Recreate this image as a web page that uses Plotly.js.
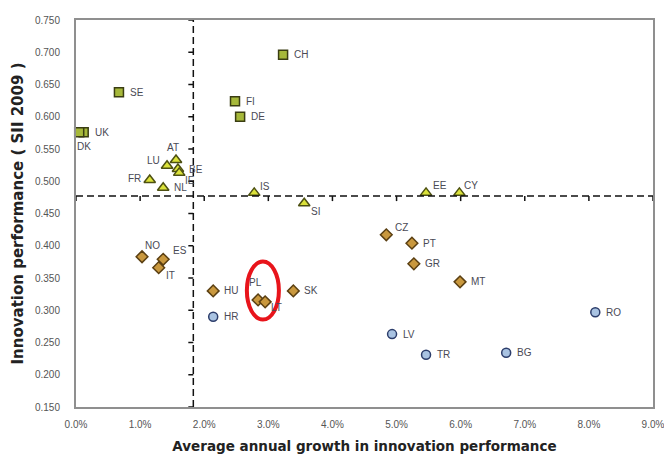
<!DOCTYPE html>
<html>
<head>
<meta charset="utf-8">
<script src="https://cdn.plot.ly/plotly-3.0.1.min.js"></script>
<style>
html,body{margin:0;padding:0;background:#fff;}
#chart{width:664px;height:457px;}
</style>
</head>
<body>
<div id="chart"></div>
<script>
// ---- Data ----
// Group 1: innovation leaders (squares)
const leadersCodes = ['CH', 'SE', 'FI', 'DE', 'UK', 'DK'];
const leadersGrowth = [3.23, 0.67, 2.48, 2.56, 0.12, 0.05];
const leadersPerf = [0.696, 0.638, 0.624, 0.600, 0.576, 0.576];

// Group 2: innovation followers (triangles)
const followersCodes = ['AT', 'LU', 'BE', 'IE', 'FR', 'NL', 'IS', 'SI', 'EE', 'CY'];
const followersGrowth = [1.56, 1.42, 1.59, 1.61, 1.15, 1.36, 2.78, 3.56, 5.46, 5.98];
const followersPerf = [0.533, 0.524, 0.519, 0.513, 0.502, 0.490, 0.482, 0.466, 0.482, 0.482];

// Group 3: moderate innovators (diamonds)
const moderateCodes = ['CZ', 'PT', 'GR', 'MT', 'NO', 'ES', 'IT', 'HU', 'SK', 'PL', 'LT'];
const moderateGrowth = [4.84, 5.24, 5.27, 5.99, 1.03, 1.36, 1.29, 2.14, 3.39, 2.84, 2.95];
const moderatePerf = [0.417, 0.404, 0.372, 0.344, 0.383, 0.379, 0.366, 0.330, 0.330, 0.316, 0.313];

// Group 4: catching-up countries (circles)
const catchingCodes = ['HR', 'RO', 'LV', 'TR', 'BG'];
const catchingGrowth = [2.14, 8.10, 4.93, 5.46, 6.71];
const catchingPerf = [0.290, 0.297, 0.263, 0.231, 0.234];

// Reference lines (averages)
const avgGrowth = 1.83;
const avgPerf = 0.477;

// Axis ticks
const xTickVals = [0, 1, 2, 3, 4, 5, 6, 7, 8, 9];
const xTickText = ['0.0%', '1.0%', '2.0%', '3.0%', '4.0%', '5.0%', '6.0%', '7.0%', '8.0%', '9.0%'];
const yTickVals = [0.15, 0.2, 0.25, 0.3, 0.35, 0.4, 0.45, 0.5, 0.55, 0.6, 0.65, 0.7, 0.75];
const yTickText = ['0.150', '0.200', '0.250', '0.300', '0.350', '0.400', '0.450', '0.500', '0.550', '0.600', '0.650', '0.700', '0.750'];

const highlighted = ['PL', 'LT'];

// ---- Label placement (style, pixel offsets) ----
const labelOffset = {
  DK: {xa: 'center', ya: 'top', dx: 5, dy: -7},
  AT: {xa: 'center', ya: 'bottom', dx: -3, dy: 5},
  LU: {xa: 'right', ya: 'middle', dx: -5, dy: 5},
  FR: {xa: 'right', ya: 'middle', dx: -7, dy: 1},
  IE: {xa: 'left', ya: 'middle', dx: 4, dy: -8},
  IS: {xa: 'left', ya: 'middle', dx: 4, dy: 6},
  SI: {xa: 'left', ya: 'middle', dx: 5, dy: -8},
  EE: {xa: 'left', ya: 'middle', dx: 5, dy: 7},
  CY: {xa: 'left', ya: 'middle', dx: 3, dy: 7},
  CZ: {xa: 'left', ya: 'middle', dx: 7, dy: 7},
  NO: {xa: 'left', ya: 'middle', dx: 1, dy: 11},
  ES: {xa: 'left', ya: 'middle', dx: 8, dy: 9},
  IT: {xa: 'left', ya: 'middle', dx: 5, dy: -8},
  PL: {xa: 'center', ya: 'middle', dx: -3, dy: 17},
  LT: {xa: 'left', ya: 'middle', dx: 4, dy: -6}
};
const defaultOffset = {xa: 'left', ya: 'middle', dx: 9, dy: 0};
const labelFont = {family: 'Liberation Sans, Arial, sans-serif', size: 10, color: '#4a4a55'};

function labels(codes, xs, ys) {
  return codes.map((c, i) => {
    const o = labelOffset[c] || defaultOffset;
    return {x: xs[i], y: ys[i], xref: 'x', yref: 'y', text: c, showarrow: false,
            xanchor: o.xa, yanchor: o.ya, xshift: o.dx, yshift: o.dy, font: labelFont};
  });
}

function group(codes, xs, ys, symbol, size, fill, border) {
  return {
    type: 'scatter', mode: 'markers',
    x: xs, y: ys, text: codes,
    cliponaxis: false,
    marker: {symbol: symbol, size: size, color: fill, line: {color: border, width: 1.5}},
    hoverinfo: 'text+x+y', showlegend: false
  };
}

const xRange = [0, 9];
const yRange = [0.15, 0.75];
const plotW = 664 - 76 - 11, plotH = 457 - 20 - 50;
const tickPx = 5;
const xTickLen = tickPx * (xRange[1] - xRange[0]) / plotW;
const yTickLen = tickPx * (yRange[1] - yRange[0]) / plotH;

// small tick marks along the dashed average lines (one-sided segments)
const hTickX = [], hTickY = [];
xTickVals.forEach(v => { hTickX.push(v, v, null); hTickY.push(avgPerf, avgPerf - yTickLen, null); });
const vTickX = [], vTickY = [];
yTickVals.forEach(v => { vTickX.push(avgGrowth, avgGrowth - xTickLen, null); vTickY.push(v, v, null); });

const tickLines = {
  type: 'scatter', mode: 'lines',
  x: hTickX.concat(vTickX), y: hTickY.concat(vTickY),
  line: {color: '#111', width: 1.5}, connectgaps: false,
  showlegend: false, hoverinfo: 'skip', cliponaxis: false
};

const traces = [
  tickLines,
  group(leadersCodes, leadersGrowth, leadersPerf, 'square', 9, '#a6b83a', '#3a3d12'),
  group(followersCodes, followersGrowth, followersPerf, 'triangle-up', 10, '#dbe23a', '#4d5012'),
  group(moderateCodes, moderateGrowth, moderatePerf, 'diamond', 9, '#c9983e', '#5a3f12'),
  group(catchingCodes, catchingGrowth, catchingPerf, 'circle', 9, '#a9c3e2', '#2c3d6b')
];

// highlight ellipse around PL / LT
const hx = highlighted.map(c => moderateGrowth[moderateCodes.indexOf(c)]);
const hy = highlighted.map(c => moderatePerf[moderateCodes.indexOf(c)]);
const hcx = (hx[0] + hx[1]) / 2 + 0.02;
const hcy = (hy[0] + hy[1]) / 2 + 0.016;

const annotations = [].concat(
  labels(leadersCodes, leadersGrowth, leadersPerf),
  labels(followersCodes, followersGrowth, followersPerf),
  labels(moderateCodes, moderateGrowth, moderatePerf),
  labels(catchingCodes, catchingGrowth, catchingPerf)
);

const layout = {
  width: 664, height: 457,
  margin: {l: 76, r: 11, t: 20, b: 50},
  paper_bgcolor: '#ffffff', plot_bgcolor: '#ffffff',
  font: {family: 'Liberation Sans, Arial, sans-serif', size: 10, color: '#555'},
  xaxis: {
    range: xRange, tickvals: xTickVals, ticktext: xTickText,
    showgrid: false, zeroline: false,
    showline: true, mirror: true, linecolor: '#8f8f8f', linewidth: 2,
    ticks: '', ticklabelstandoff: 7, ticklabeloverflow: 'allow',
    tickfont: {family: 'Liberation Sans, Arial, sans-serif', size: 10, color: '#555'},
    title: {text: 'Average annual growth in innovation performance', standoff: 13,
            font: {family: 'DejaVu Sans, Verdana, sans-serif', size: 13.5, color: '#222', weight: 'bold'}}
  },
  yaxis: {
    range: yRange, tickvals: yTickVals, ticktext: yTickText,
    showgrid: false, zeroline: false,
    showline: true, mirror: true, linecolor: '#8f8f8f', linewidth: 2,
    ticks: '', ticklabelstandoff: 12, ticklabeloverflow: 'allow',
    tickfont: {family: 'Liberation Sans, Arial, sans-serif', size: 10, color: '#555'},
    title: {text: 'Innovation performance ( SII 2009 )', standoff: 8,
            font: {family: 'DejaVu Sans, Verdana, sans-serif', size: 15, color: '#222', weight: 'bold'}}
  },
  annotations: annotations,
  shapes: [
    {type: 'line', xref: 'paper', yref: 'y', x0: 0, x1: 1, y0: avgPerf, y1: avgPerf,
     line: {color: '#111', width: 1.5, dash: '7px,4px'}},
    {type: 'line', xref: 'x', yref: 'paper', x0: avgGrowth, x1: avgGrowth, y0: 0, y1: 1,
     line: {color: '#111', width: 1.5, dash: '7px,4px'}},
    {type: 'circle', xref: 'x', yref: 'y',
     x0: hcx - 0.25, x1: hcx + 0.25, y0: hcy - 0.045, y1: hcy + 0.045,
     line: {color: '#e8141b', width: 4}}
  ]
};

Plotly.newPlot('chart', traces, layout, {staticPlot: true, displayModeBar: false});
</script>
</body>
</html>
